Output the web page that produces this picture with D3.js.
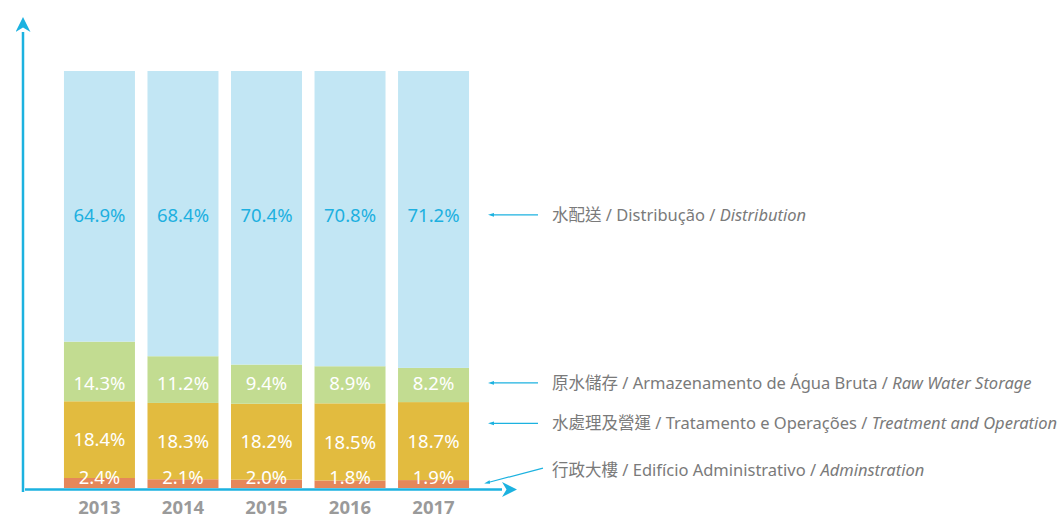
<!DOCTYPE html>
<html>
<head>
<meta charset="utf-8">
<script src="https://cdn.jsdelivr.net/npm/d3@7"></script>
<style>
body{margin:0;background:#fff;}
svg{display:block;}
</style>
</head>
<body>
<div id="chart"></div>
<script>
(function(){

const width = 1059;
const height = 518;

const years = ["2013","2014","2015","2016","2017"];
const admin = [2.4,2.1,2.0,1.8,1.9];
const treatment = [18.4,18.3,18.2,18.5,18.7];
const rawStorage = [14.3,11.2,9.4,8.9,8.2];
const distribution = [64.9,68.4,70.4,70.8,71.2];

const seriesKeys = ["admin","treatment","raw","dist"];
const seriesColors = ["#e5875a","#e2bb3f","#c2dc91","#c2e6f4"];
const labelColors = ["#ffffff","#ffffff","#ffffff","#1db0e0"];
const legendZh = ["行政大樓","水處理及營運","原水儲存","水配送"];
const legendPt = ["Edifício Administrativo","Tratamento e Operações","Armazenamento de Água Bruta","Distribução"];
const legendEn = ["Adminstration","Treatment and Operation","Raw Water Storage","Distribution"];

const axisColor = "#1cb2e0";

const table = years.map((y,i)=>({
    year:y,
    admin:admin[i],
    treatment:treatment[i],
    raw:rawStorage[i],
    dist:distribution[i]
}));

const stacked = d3.stack().keys(seriesKeys)(table);

const svg = d3.select("#chart")
.append("svg")
.attr("width",width)
.attr("height",height);

const x = d3.scaleBand()
.domain(years)
.range([57.7,475.3])
.paddingInner(0.15)
.paddingOuter(0.075);

const y = d3.scaleLinear()
.domain([0,100])
.range([488,71]);

// bars
const layers = svg.selectAll("g.layer")
.data(stacked)
.enter()
.append("g")
.attr("class","layer")
.attr("fill",(d,i)=>seriesColors[i]);

layers.selectAll("rect")
.data(d=>d)
.enter()
.append("rect")
.attr("x",d=>x(d.data.year))
.attr("y",d=>y(d[1]))
.attr("width",x.bandwidth())
.attr("height",d=>y(d[0])-y(d[1]));

// legend rows, y in data units
const legendY = [y(4.3), y(15.5), y(25.2), y(65.5)];

// value labels
const labelFont = "'Noto Sans','Open Sans',sans-serif";
stacked.forEach((layer,k)=>{
    svg.append("g")
    .selectAll("text")
    .data(layer)
    .enter()
    .append("text")
    .attr("x",d=>x(d.data.year)+x.bandwidth()/2)
    .attr("y",d=>{
        if(k===0) return y(0)-11;
        if(k===1) return (y(d[0])+y(d[1]))/2;
        return legendY[k];
    })
    .attr("dy","0.36em")
    .attr("text-anchor","middle")
    .attr("font-family",labelFont)
    .attr("font-size",18.5)
    .attr("fill",labelColors[k])
    .text(d=>d.data[seriesKeys[k]].toFixed(1)+"%");
});

// axes
const defs = svg.append("defs");
defs.append("marker")
.attr("id","bigArrow")
.attr("viewBox","0 0 10 10")
.attr("refX",0).attr("refY",5)
.attr("markerWidth",6).attr("markerHeight",6)
.attr("markerUnits","strokeWidth")
.attr("orient","auto")
.append("path")
.attr("d","M0,0 L10,5 L0,10 L3,5 Z")
.attr("fill",axisColor);

defs.append("marker")
.attr("id","smallArrow")
.attr("viewBox","0 0 10 10")
.attr("refX",0).attr("refY",5)
.attr("markerWidth",5).attr("markerHeight",5)
.attr("markerUnits","strokeWidth")
.attr("orient","auto")
.append("path")
.attr("d","M0,2 L10,5 L0,8 Z")
.attr("fill",axisColor);

svg.append("line")
.attr("x1",23).attr("y1",492)
.attr("x2",23).attr("y2",32)
.attr("stroke",axisColor)
.attr("stroke-width",2.5)
.attr("marker-end","url(#bigArrow)");

svg.append("line")
.attr("x1",25).attr("y1",489.5)
.attr("x2",502).attr("y2",489.5)
.attr("stroke",axisColor)
.attr("stroke-width",2.5)
.attr("marker-end","url(#bigArrow)");

// year labels
svg.append("g")
.selectAll("text")
.data(years)
.enter()
.append("text")
.attr("x",d=>x(d)+x.bandwidth()/2)
.attr("y",514)
.attr("text-anchor","middle")
.attr("font-family","'Noto Sans','DejaVu Sans',sans-serif")
.attr("font-weight","bold")
.attr("font-size",18.5)
.attr("fill","#9a9a9a")
.text(d=>d);

// legend with arrows
const legend = svg.append("g")
.attr("font-family","'Noto Sans','Noto Sans CJK TC',sans-serif")
.attr("font-size",16.5)
.attr("fill","#7a7a7a");

seriesKeys.forEach((k,i)=>{
    const ly = legendY[i];
    const startY = i===0 ? ly-2 : ly;
    const endY = i===0 ? 482 : ly;
    const endX = i===0 ? 490 : 494;
    svg.append("line")
    .attr("x1",i===0?543:538).attr("y1",startY)
    .attr("x2",endX).attr("y2",endY)
    .attr("stroke",axisColor)
    .attr("stroke-width",1.2)
    .attr("marker-end","url(#smallArrow)");

    const t = legend.append("text")
    .attr("x",552)
    .attr("y",ly)
    .attr("dy","0.35em");
    t.append("tspan")
    .attr("font-family","'Noto Sans CJK TC',sans-serif")
    .text(legendZh[i]);
    t.append("tspan").text(" / "+legendPt[i]+" / ");
    t.append("tspan").attr("font-style","italic").text(legendEn[i]);
});

})();
</script>
</body>
</html>
